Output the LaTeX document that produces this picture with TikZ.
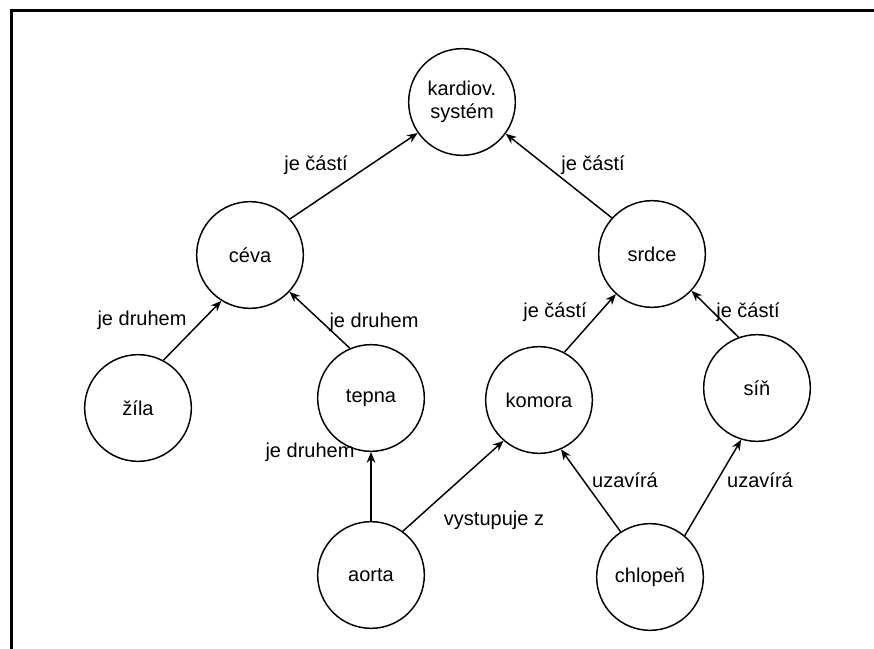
\documentclass[tikz,border=0pt]{standalone}
\usepackage{fontspec}
\setmainfont{Liberation Sans}
\usetikzlibrary{arrows.meta}
\begin{document}
\begin{tikzpicture}[x=0.75pt,y=-0.75pt,
  concept/.style={circle,draw,line width=1.1pt,minimum size=80pt,inner sep=0pt,
    align=center,font=\fontsize{15}{17}\selectfont},
  rel/.style={font=\fontsize{15}{17}\selectfont,inner sep=0pt},
  arr/.style={line width=1.1pt,-{Stealth[length=8pt,width=6.5pt]}},
  frame/.style={line width=2.3pt}]
\useasboundingbox (0,0) rectangle (874,649);
% open frame: top and left edges only
\draw[frame] (11.5,649) -- (11.5,10.5) -- (874,10.5);

% concepts
\node[concept] (kardio) at (462,102) {kardiov.\\systém};
\node[concept] (ceva)   at (250,255) {céva};
\node[concept] (srdce)  at (652,254) {srdce};
\node[concept] (zila)   at (138,408) {žíla};
\node[concept] (tepna)  at (371,398) {tepna};
\node[concept] (komora) at (539,400) {komora};
\node[concept] (sin)    at (757,388) {síň};
\node[concept] (aorta)  at (371,575) {aorta};
\node[concept] (chlopen) at (650,577) {chlopeň};

% relations
\draw[arr] (ceva.42)    -- (kardio.215);
\draw[arr] (srdce.138)  -- (kardio.324);
\draw[arr] (zila.62)    -- (ceva.238);
\draw[arr] (tepna.113)  -- (ceva.317);
\draw[arr] (komora.62)  -- (srdce.228);
\draw[arr] (sin.110)    -- (srdce.317);
\draw[arr] (aorta.90)   -- (tepna.270);
\draw[arr] (aorta.54)   -- (komora.229);
\draw[arr] (chlopen.123) -- (komora.294);
\draw[arr] (chlopen.50) -- (sin.253);

% relation labels
\node[rel] (l1)  at (316,165) {je částí};
\node[rel] (l2)  at (593,165) {je částí};
\node[rel] (l3)  at (142,320) {je druhem};
\node[rel] (l4)  at (374,322) {je druhem};
\node[rel] (l5)  at (555,312) {je částí};
\node[rel] (l6)  at (748,312) {je částí};
\node[rel] (l7)  at (310,452) {je druhem};
\node[rel] (l8)  at (494,520) {vystupuje z};
\node[rel] (l9)  at (625,480) {uzavírá};
\node[rel] (l10) at (760,480) {uzavírá};
\end{tikzpicture}
\end{document}
